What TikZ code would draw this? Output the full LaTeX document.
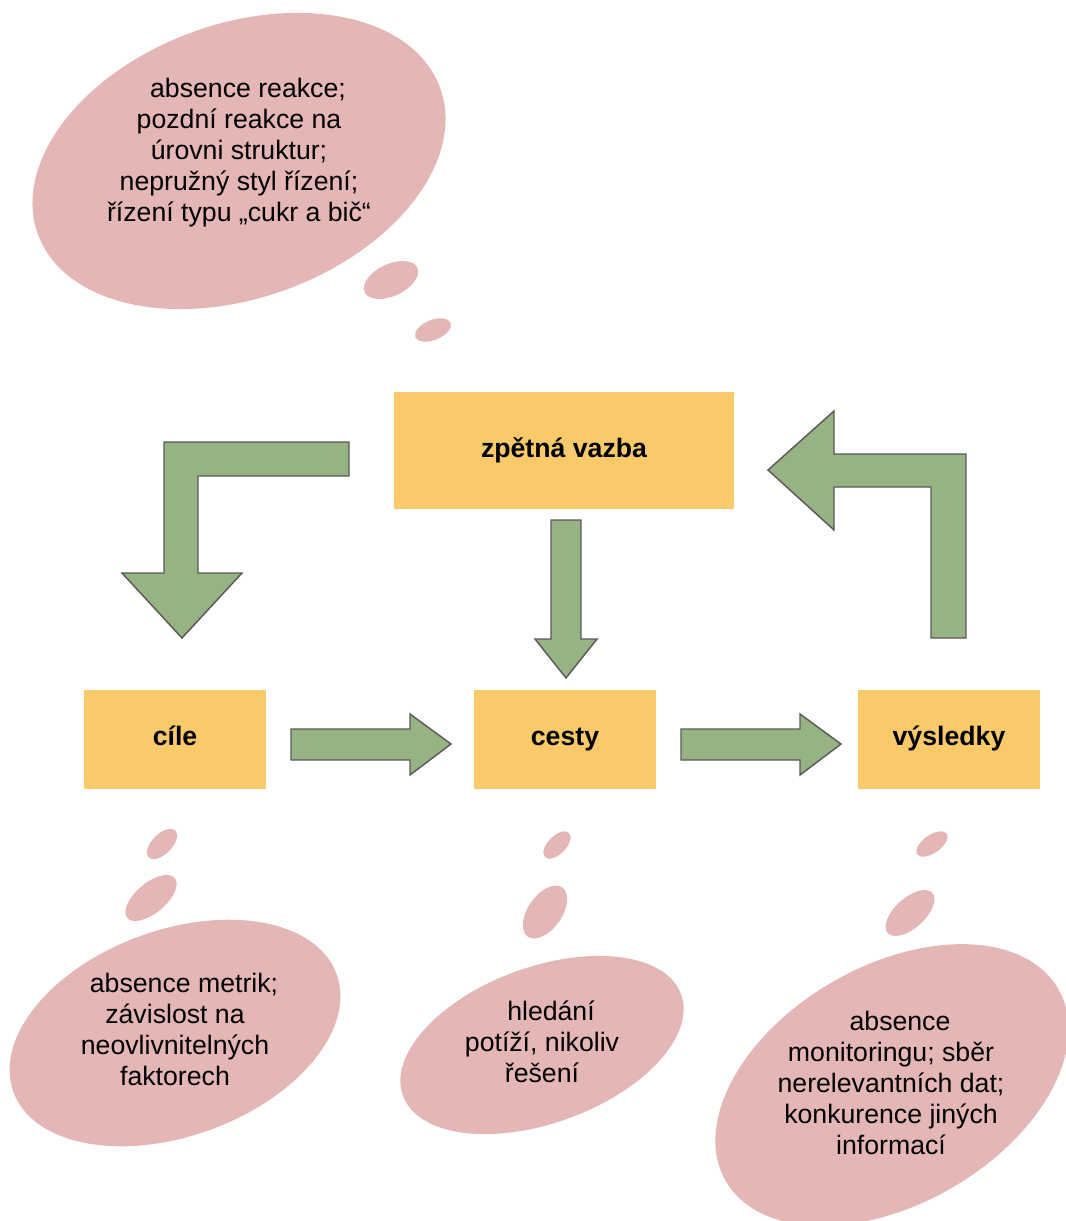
\documentclass[tikz,border=0pt]{standalone}
\usepackage{fontspec}
\setmainfont{Liberation Sans}
\begin{document}
\begin{tikzpicture}[x=0.75pt,y=-0.75pt,
  bubble/.style={fill=bubblepink},
  stagebox/.style={fill=boxorange, draw=none, minimum width=136.5pt, minimum height=74.25pt,
    font=\fontsize{20}{23.25}\selectfont\bfseries, inner sep=0pt,
    text height=12.5pt, text depth=3.2pt},
  blockarrow/.style={fill=arrowgreen, draw=arrowedge, line width=1.1pt, line join=miter},
  bubbletext/.style={align=center, font=\fontsize{20}{23.25}\selectfont, inner sep=0pt}]
\definecolor{boxorange}{HTML}{FACA6A}
\definecolor{arrowgreen}{HTML}{97B283}
\definecolor{arrowedge}{HTML}{5A5A5A}
\definecolor{bubblepink}{HTML}{E5B6B6}
\newcommand{\firstindent}{\hspace*{13.5pt}}
\useasboundingbox (0,0) rectangle (1066,1221);
\clip (0,0) rectangle (1066,1221);

% thought bubble above the feedback box
\fill[bubble, rotate around={20:(239,161)}] (239,161) ellipse [x radius=214, y radius=137];
\fill[bubble, rotate around={25:(391,280)}] (391,280) ellipse [x radius=29, y radius=16];
\fill[bubble, rotate around={22:(433,330)}] (433,330) ellipse [x radius=19, y radius=10];
\node[bubbletext] (tfeedback) at (239,153) {\firstindent absence reakce;\\pozdní reakce na\\úrovni struktur;\\nepružný styl řízení;\\řízení typu „cukr a bič“};

% thought bubbles below the three stages
\fill[bubble, rotate around={45:(162,844)}] (162,844) ellipse [x radius=19, y radius=10];
\fill[bubble, rotate around={40:(151,898)}] (151,898) ellipse [x radius=31, y radius=15];
\fill[bubble, rotate around={20:(175,1033)}] (175,1033) ellipse [x radius=172, y radius=103];
\node[bubbletext] (tgoals) at (175,1029) {\firstindent absence metrik;\\závislost na\\neovlivnitelných\\faktorech};

\fill[bubble, rotate around={45:(557,845)}] (557,845) ellipse [x radius=17, y radius=9];
\fill[bubble, rotate around={55:(545,912)}] (545,912) ellipse [x radius=30, y radius=17];
\fill[bubble, rotate around={20:(542,1045)}] (542,1045) ellipse [x radius=148, y radius=78];
\node[bubbletext] (tpaths) at (542,1042) {\firstindent hledání\\potíží, nikoliv\\řešení};

\fill[bubble, rotate around={35:(932,844)}] (932,844) ellipse [x radius=18, y radius=9];
\fill[bubble, rotate around={42:(910,913)}] (910,913) ellipse [x radius=30, y radius=15];
\fill[bubble, rotate around={30:(892,1085)}] (892,1085) ellipse [x radius=192, y radius=119];
\node[bubbletext] (tresults) at (891,1083) {\firstindent absence\\monitoringu; sběr\\nerelevantních dat;\\konkurence jiných\\informací};

% stages
\node[stagebox, minimum width=255pt, minimum height=87.75pt, text height=14pt, text depth=4pt] (feedback) at (564,450.5) {zpětná vazba};
\node[stagebox] (goals) at (175,739.5) {cíle};
\node[stagebox] (paths) at (565,739.5) {cesty};
\node[stagebox] (results) at (949,739.5) {výsledky};

% block arrows
\draw[blockarrow] (349,442) -- (164,442) -- (164,573) -- (122,573) -- (182,638)
  -- (242,573) -- (198,573) -- (198,476) -- (349,476) -- cycle;
\draw[blockarrow] (551,520) -- (581,520) -- (581,639) -- (597,639) -- (566,678)
  -- (535,639) -- (551,639) -- cycle;
\draw[blockarrow] (291,729) -- (410,729) -- (410,714) -- (451,744) -- (410,775)
  -- (410,760) -- (291,760) -- cycle;
\draw[blockarrow] (681,729) -- (800,729) -- (800,714) -- (841,744) -- (800,775)
  -- (800,760) -- (681,760) -- cycle;
\draw[blockarrow] (931,638) -- (931,487) -- (834,487) -- (834,530) -- (768,470)
  -- (834,411) -- (834,454) -- (966,454) -- (966,638) -- cycle;
\end{tikzpicture}
\end{document}
